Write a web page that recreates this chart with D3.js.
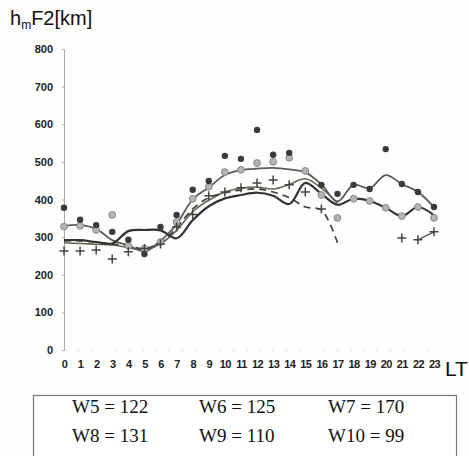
<!DOCTYPE html>
<html>
<head>
<meta charset="utf-8">
<script src="https://cdn.jsdelivr.net/npm/d3@7"></script>
<style>
  body { margin: 0; background: #fdfdfb; }
  svg { display: block; }
</style>
</head>
<body>
<div id="chart"></div>
<script>
// hmF2 vs local time, hourly values

var hours = d3.range(0, 24);
var yTicks = [0, 100, 200, 300, 400, 500, 600, 700, 800];

// solid curves
var upperLine = [330, 332, 322, 292, 278, 262, 290, 335, 400, 432, 465, 478, 482, 484, 480, 472, 440, 395, 439, 430, 465, 441, 420, 380];
var lowLine   = [292, 292, 287, 283, 316, 319, 318, 297, 345, 382, 403, 412, 418, 410, 388, 444, 415, 386, 402, 396, 378, 356, 380, 358];
var midLine   = [285, 283, 281, 279, 272, 266, 282, 318, 368, 398, 420, 430, 433, 428, 440, 455, 430, 390, null, null, null, null, null, null];
// dashed curve, stops after 17 LT
var dashLine  = [290, 290, 286, 282, 276, 270, 286, 325, 375, 405, 418, 425, 428, 420, 405, 380, 372, 285, null, null, null, null, null, null];

// scattered markers
var darkDots = [378, 346, 332, 314, 293, 255, 327, 359, 426, 449, 516, 508, 585, 519, 524, null, 439, 415, 439, 428, 534, 441, 420, 380];
var grayDots = [328, 330, 319, 359, 277, 269, 287, 340, 402, 434, 473, 479, 497, 500, 511, 476, 412, 351, 402, 396, 378, 356, 380, 351];
var plusMarks = [263, 263, 266, 242, 261, 270, 282, 327, 360, 410, 420, 431, 444, 452, 439, 420, 375, null, null, null, null, 298, 293, 314];

var boxRows = [["W5 = 122", "W6 = 125", "W7 = 170"], ["W8 = 131", "W9 = 110", "W10 = 99"]];

var W = 469, H = 456;
var svg = d3.select("#chart").append("svg")
    .attr("width", W)
    .attr("height", H);

var x = d3.scaleLinear().domain([0, 23]).range([64, 434]);
var y = d3.scaleLinear().domain([0, 800]).range([350, 49]);

// title
var title = svg.append("text")
    .attr("x", 10)
    .attr("y", 25)
    .style("font-family", "Liberation Sans, Arial, sans-serif")
    .style("font-size", "20px")
    .attr("fill", "#111");
title.append("tspan").text("h");
title.append("tspan").text("m").attr("dy", 4).style("font-size", "12px");
title.append("tspan").text("F2[km]").attr("dy", -4);

// y axis
var yAxis = svg.append("g").attr("transform", "translate(64,0)")
    .call(d3.axisLeft(y).tickValues(yTicks).tickSize(2).tickFormat(d3.format("d")));
yAxis.select(".domain").attr("stroke", "#aaa").attr("stroke-width", 1);
yAxis.selectAll(".tick line").attr("stroke", "#aaa");
yAxis.selectAll("text")
    .attr("x", -11)
    .style("font-family", "Liberation Sans, Arial, sans-serif")
    .style("font-size", "11px")
    .style("font-weight", "bold")
    .attr("fill", "#222");

// x axis (faint dotted baseline in the scan)
var xAxis = svg.append("g").attr("transform", "translate(0,350)")
    .call(d3.axisBottom(x).tickValues(hours).tickSize(0).tickPadding(10).tickFormat(d3.format("d")));
xAxis.select(".domain").attr("stroke", "#bbb").attr("stroke-dasharray", "1,12");
xAxis.selectAll("text")
    .style("font-family", "Liberation Sans, Arial, sans-serif")
    .style("font-size", "11px")
    .style("font-weight", "bold")
    .style("letter-spacing", "-0.6px")
    .attr("fill", "#222");

svg.append("text")
    .attr("x", 445)
    .attr("y", 376)
    .text("LT")
    .style("font-family", "Liberation Sans, Arial, sans-serif")
    .style("font-size", "21px")
    .attr("fill", "#111");

// curves
function drawCurve(vals, color, width, dash) {
    var line = d3.line()
        .defined(function (d) { return d != null; })
        .x(function (d, i) { return x(hours[i]); })
        .y(function (d) { return y(d); })
        .curve(d3.curveCatmullRom.alpha(0.5));
    svg.append("path")
        .datum(vals)
        .attr("fill", "none")
        .attr("stroke", color)
        .attr("stroke-width", width)
        .attr("stroke-dasharray", dash || null)
        .attr("d", line);
}

drawCurve(midLine, "#6b6558", 1.6);
drawCurve(dashLine, "#3c3c3c", 1.6, "7,5");
drawCurve(upperLine, "#5a5a5a", 1.8);
drawCurve(lowLine, "#333", 2.2);

// short line joining the last crosses
svg.append("path")
    .datum(plusMarks.slice(22))
    .attr("fill", "none")
    .attr("stroke", "#555")
    .attr("stroke-width", 1.4)
    .attr("d", d3.line()
        .x(function (d, i) { return x(hours[22 + i]); })
        .y(function (d) { return y(d); }));

// markers
svg.append("g").selectAll("circle")
    .data(grayDots.map(function (v, i) { return { h: hours[i], v: v }; }).filter(function (d) { return d.v != null; }))
    .enter().append("circle")
    .attr("cx", function (d) { return x(d.h); })
    .attr("cy", function (d) { return y(d.v); })
    .attr("r", 3.4)
    .attr("fill", "#b4b4b4")
    .attr("stroke", "#888")
    .attr("stroke-width", 1);

svg.append("g").selectAll("circle")
    .data(darkDots.map(function (v, i) { return { h: hours[i], v: v }; }).filter(function (d) { return d.v != null; }))
    .enter().append("circle")
    .attr("cx", function (d) { return x(d.h); })
    .attr("cy", function (d) { return y(d.v); })
    .attr("r", 3.2)
    .attr("fill", "#3a3a3a");

svg.append("g").selectAll("path")
    .data(plusMarks.map(function (v, i) { return { h: hours[i], v: v }; }).filter(function (d) { return d.v != null; }))
    .enter().append("path")
    .attr("d", function (d) {
        var cx = x(d.h), cy = y(d.v), s = 4.5;
        return "M" + (cx - s) + "," + cy + "H" + (cx + s) + "M" + cx + "," + (cy - s) + "V" + (cy + s);
    })
    .attr("stroke", "#444")
    .attr("stroke-width", 1.5)
    .attr("fill", "none");

// box with W values
svg.append("rect")
    .attr("x", 33.5)
    .attr("y", 395.5)
    .attr("width", 423)
    .attr("height", 70)
    .attr("fill", "#fff")
    .attr("stroke", "#777")
    .attr("stroke-width", 1.2);

var colX = [72, 199, 328];
var rowY = [413, 442];
boxRows.forEach(function (row, r) {
    row.forEach(function (txt, c) {
        svg.append("text")
            .attr("x", colX[c])
            .attr("y", rowY[r])
            .text(txt)
            .style("font-family", "Liberation Serif, Times New Roman, serif")
            .style("font-size", "19px")
            .attr("fill", "#111");
    });
});
</script>
</body>
</html>
